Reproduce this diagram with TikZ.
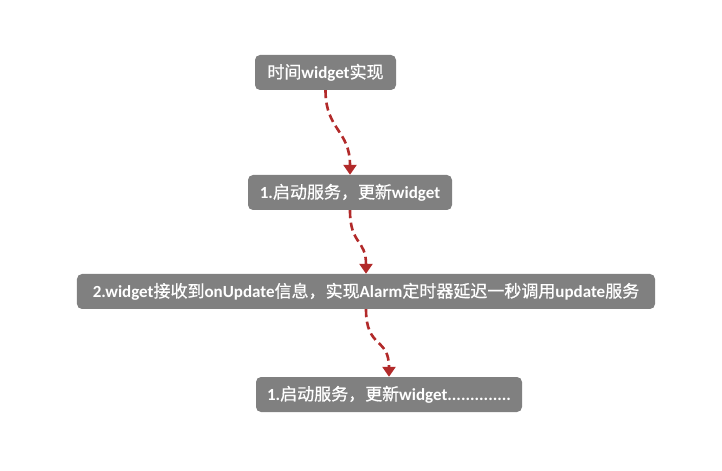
\documentclass[tikz,border=0pt]{standalone}
\usepackage{fontspec}
\setmainfont{Carlito}
\newfontfamily\cjkfont[FakeBold=0.7]{Noto Sans CJK SC}
\newcommand\cj[1]{{\cjkfont\mdseries #1}}
\usetikzlibrary{arrows.meta}
\definecolor{boxgray}{HTML}{808080}
\definecolor{flowred}{HTML}{B22A2A}
\tikzset{
  stepbox/.style={fill=boxgray, rounded corners=5bp, text=white,
    font=\fontsize{17bp}{20bp}\selectfont\bfseries,
    minimum height=35bp, inner xsep=4bp, inner ysep=0pt},
  flow/.style={draw=flowred, line width=2.6bp, dash pattern=on 8bp off 4.5bp,
    -{Triangle[length=10bp,width=13bp,fill=flowred]}}
}
\begin{document}
\begin{tikzpicture}[x=1bp,y=-1bp]
\useasboundingbox (0,0) rectangle (722,471);
% process steps
\node[stepbox, minimum width=141bp] (s0) at (325.5,72.5) {\cj{时间}widget\cj{实现}};
\node[stepbox, minimum width=204bp] (s1) at (350,192.5) {1.\cj{启动服务，更新}widget};
\node[stepbox, minimum width=578bp] (s2) at (366,291.5)
  {2.widget\cj{接收到}onUpdate\cj{信息，实现}Alarm\cj{定时器延迟一秒调用}update\cj{服务}};
\node[stepbox, minimum width=266bp] (s3) at (389,394.5) {1.\cj{启动服务，更新}widget..............};
% dashed connectors
\draw[flow] (s0.south) .. controls +(0,40) and +(0,-45) .. (s1.north);
\draw[flow] (s1.south) .. controls +(0,35) and +(0,-35) .. (s2.north);
\draw[flow] (s2.south) .. controls +(0,40) and +(0,-40) .. (s3.north);
\end{tikzpicture}
\end{document}
